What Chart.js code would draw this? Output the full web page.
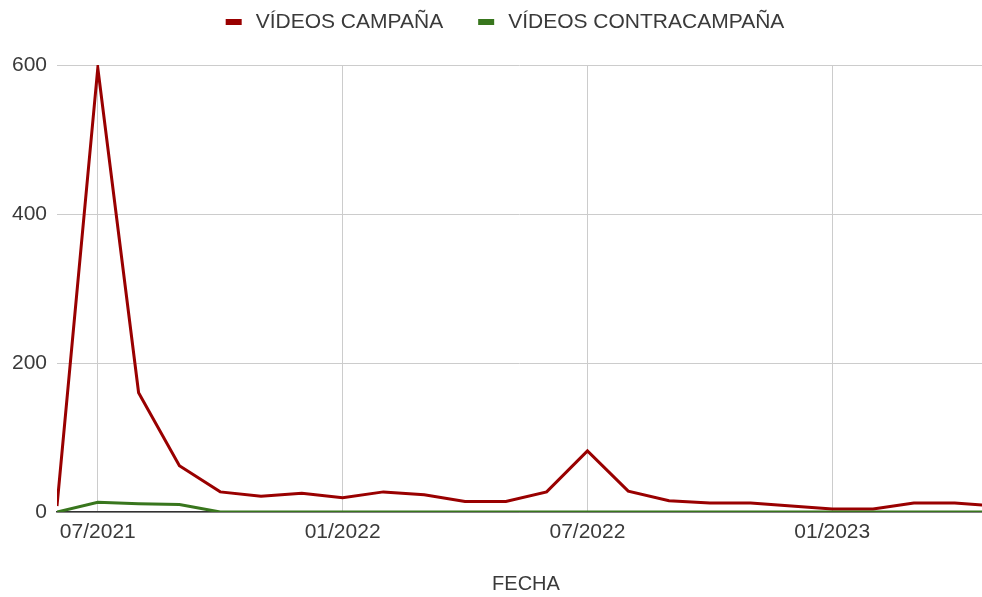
<!DOCTYPE html>
<html>
<head>
<meta charset="utf-8">
<script src="https://cdn.jsdelivr.net/npm/chart.js@4/dist/chart.umd.min.js"></script>
<style>
  html, body { margin: 0; padding: 0; background: #ffffff; }
  #wrap { width: 982px; height: 597px; position: relative; }
</style>
</head>
<body>
<div id="wrap"><canvas id="c"></canvas></div>
<script>
const months = ['06/2021','07/2021','08/2021','09/2021','10/2021','11/2021','12/2021',
  '01/2022','02/2022','03/2022','04/2022','05/2022','06/2022','07/2022','08/2022','09/2022',
  '10/2022','11/2022','12/2022','01/2023','02/2023','03/2023','04/2023','05/2023'];
const campana = [8, 596, 160, 62, 27, 21, 25, 19, 27, 23, 14, 14, 27, 82, 28, 15, 12, 12, 8, 4, 4, 12, 12, 8];
const contracampana = [0, 13, 11, 10, 0, 0, 0, 0, 0, 0, 0, 0, 0, 0, 0, 0, 0, 0, 0, 0, 0, 0, 0, 0];
const seriesNames = ['VÍDEOS CAMPAÑA', 'VÍDEOS CONTRACAMPAÑA'];
const seriesColors = ['#990000', '#38761d'];
const xTickLabels = ['07/2021', '01/2022', '07/2022', '01/2023'];
const yTicks = [0, 200, 400, 600];
const xAxisTitle = 'FECHA';

const FONT = "'Liberation Sans', Arial, sans-serif";
const TEXT = '#3a3a3a';

const toPts = arr => arr.map((v, i) => ({ x: i, y: v }));
const xTickPos = xTickLabels.map(l => months.indexOf(l));

const legendPlugin = {
  id: 'customLegend',
  afterDraw(chart) {
    const ctx = chart.ctx;
    ctx.save();
    ctx.font = '21px ' + FONT;
    ctx.textBaseline = 'middle';
    const box = 16, gapText = 14, gapItem = 35;
    const widths = chart.data.datasets.map(d => ctx.measureText(d.label).width);
    let total = 0;
    widths.forEach((w, i) => { total += box + gapText + w + (i ? gapItem : 0); });
    let x = 505 - total / 2;
    const y = 22;
    chart.data.datasets.forEach((d, i) => {
      if (i) x += gapItem;
      ctx.fillStyle = d.borderColor;
      ctx.fillRect(x, y - 3, box, 6);
      x += box + gapText;
      ctx.fillStyle = TEXT;
      ctx.textAlign = 'left';
      ctx.fillText(d.label, x, y);
      x += widths[i];
    });
    // x-axis title
    ctx.font = '20px ' + FONT;
    ctx.textAlign = 'center';
    ctx.fillText(xAxisTitle, 526, 584);
    ctx.restore();
  }
};

new Chart(document.getElementById('c'), {
  type: 'line',
  data: {
    datasets: [
      { label: seriesNames[0], data: toPts(campana), borderColor: seriesColors[0], backgroundColor: seriesColors[0], borderWidth: 3, pointRadius: 0, tension: 0, order: 1 },
      { label: seriesNames[1], data: toPts(contracampana), borderColor: seriesColors[1], backgroundColor: seriesColors[1], borderWidth: 3, pointRadius: 0, tension: 0, order: 0 }
    ]
  },
  options: {
    responsive: true,
    maintainAspectRatio: false,
    devicePixelRatio: 1,
    animation: false,
    layout: { padding: { top: 65, left: 0, right: 0, bottom: 0 } },
    plugins: { legend: { display: false }, tooltip: { enabled: false } },
    scales: {
      x: {
        type: 'linear',
        min: 0,
        max: 22.67,
        afterBuildTicks: s => { s.ticks = xTickPos.map(v => ({ value: v })); },
        afterFit: s => { s.height = 85; },
        ticks: {
          autoSkip: false,
          maxRotation: 0,
          padding: 8,
          font: { family: FONT, size: 21 },
          color: TEXT,
          callback: v => months[v]
        },
        grid: { color: '#cccccc', lineWidth: 1, drawTicks: false },
        border: { display: true, color: '#333333', width: 1.5 },
        title: { display: false }
      },
      y: {
        min: 0,
        max: 600,
        afterBuildTicks: s => { s.ticks = yTicks.map(v => ({ value: v })); },
        afterFit: s => { s.width = 57; },
        ticks: { padding: 10, font: { family: FONT, size: 21 }, color: TEXT },
        grid: { color: '#cccccc', lineWidth: 1, drawTicks: false },
        border: { display: false }
      }
    }
  },
  plugins: [legendPlugin]
});
</script>
</body>
</html>
